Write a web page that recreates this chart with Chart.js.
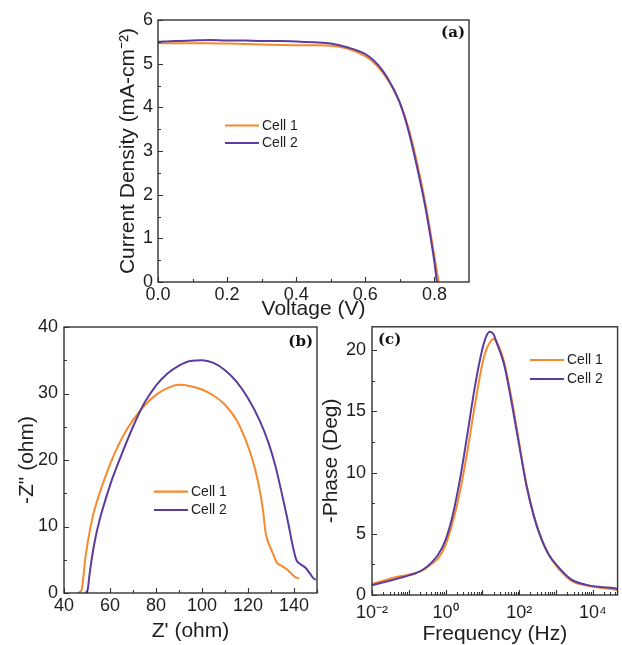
<!DOCTYPE html>
<html>
<head>
<meta charset="utf-8">
<script src="https://cdn.jsdelivr.net/npm/chart.js@4.4.1/dist/chart.umd.min.js"></script>
<style>
  html, body { margin: 0; padding: 0; background: #fff; }
  body { width: 622px; height: 645px; position: relative; overflow: hidden; }
  .panel { position: absolute; }
  #jvBox { left: 0; top: 0; width: 480px; height: 325px; }
  #nyqBox { left: 0; top: 310px; width: 330px; height: 335px; }
  #bodeBox { left: 300px; top: 310px; width: 322px; height: 335px; }
</style>
</head>
<body>
<div class="panel" id="jvBox"><canvas id="jvChart"></canvas></div>
<div class="panel" id="nyqBox"><canvas id="nyqChart"></canvas></div>
<div class="panel" id="bodeBox"><canvas id="bodeChart"></canvas></div>
<script>
// series names
const cellLabels = ['Cell 1', 'Cell 2'];

// (a) J-V curves
const voltage1 = [0, 0.05, 0.1, 0.15, 0.2, 0.25, 0.3, 0.35, 0.4, 0.45, 0.5, 0.55, 0.6, 0.625, 0.65, 0.675, 0.7, 0.725, 0.75, 0.775, 0.8, 0.812];
const current1 = [5.47, 5.47, 5.47, 5.47, 5.46, 5.45, 5.44, 5.43, 5.42, 5.42, 5.41, 5.34, 5.17, 5.02, 4.80, 4.50, 4.10, 3.52, 2.72, 1.75, 0.58, 0];
const voltage2 = [0, 0.05, 0.1, 0.15, 0.2, 0.25, 0.3, 0.35, 0.4, 0.45, 0.5, 0.55, 0.6, 0.625, 0.65, 0.675, 0.7, 0.725, 0.75, 0.775, 0.8, 0.807];
const current2 = [5.50, 5.52, 5.53, 5.54, 5.53, 5.53, 5.52, 5.52, 5.51, 5.49, 5.46, 5.37, 5.22, 5.07, 4.84, 4.52, 4.10, 3.46, 2.62, 1.66, 0.45, 0];

// (b) Nyquist plots
const zReal1 = [45.8, 47.6, 48.3, 49.2, 50.5, 52.5, 55, 58, 62, 66, 70, 75, 80, 85, 90, 95, 100, 105, 110, 115, 119, 122, 124.5, 126.5, 127.7, 129.5, 131, 132.5, 135, 137.5, 139.5, 141, 142.2];
const zImag1 = [0, 0.4, 2, 5, 8, 11.5, 14.5, 17.5, 21, 23.8, 26, 28.2, 29.8, 30.8, 31.3, 31.1, 30.6, 29.7, 28.3, 26.0, 23, 20, 16.5, 12.5, 9, 7, 5.8, 4.6, 4, 3.4, 2.7, 2.3, 2.2];
const zReal2 = [49.3, 50.3, 51, 52, 53.5, 55.5, 58, 61, 65, 70, 75, 80, 85, 90, 95, 100, 105, 110, 115, 120, 125, 129, 132, 135, 137.5, 139.5, 141, 143, 145, 147, 148.5, 149.5];
const zImag2 = [0, 0.5, 2.5, 5, 8, 11, 14, 17.2, 20.8, 25, 28.6, 31.2, 33, 34.2, 34.9, 35.0, 34.6, 33.5, 31.8, 29.3, 26, 22.5, 19, 14.5, 10.5, 7, 5, 4.3, 3.8, 2.9, 2.2, 2];

// (c) Bode phase
const freq = [0.01, 0.0251, 0.0501, 0.1, 0.158, 0.251, 0.398, 0.631, 1, 1.58, 2.51, 3.98, 6.31, 10, 12.6, 15.8, 20, 25.1, 31.6, 39.8, 63.1, 100, 158, 251, 398, 631, 1000, 2510, 6310, 15800, 39800, 47000];
const phase1 = [0.9, 1.25, 1.5, 1.65, 1.8, 2.05, 2.5, 3.0, 4.1, 6.0, 8.6, 11.9, 15.6, 18.9, 20.0, 20.6, 20.9, 20.6, 19.9, 18.9, 15.9, 12.4, 9.0, 6.5, 4.6, 3.3, 2.4, 1.2, 0.8, 0.6, 0.45, 0.4];
const phase2 = [0.8, 1.1, 1.35, 1.6, 1.8, 2.1, 2.6, 3.3, 4.5, 6.6, 9.6, 13.3, 17.1, 20.1, 21.1, 21.5, 21.3, 20.5, 19.7, 18.7, 15.6, 12.2, 8.9, 6.4, 4.6, 3.3, 2.5, 1.3, 0.85, 0.65, 0.55, 0.5];

// tick values
const jvXMajor = [0, 0.2, 0.4, 0.6, 0.8];
const jvXMinor = [0.1, 0.3, 0.5, 0.7];
const jvYMajor = [0, 1, 2, 3, 4, 5, 6];
const jvYMinor = [0.5, 1.5, 2.5, 3.5, 4.5, 5.5];
const nyqXMajor = [40, 60, 80, 100, 120, 140];
const nyqXMinor = [50, 70, 90, 110, 130, 150];
const nyqYMajor = [0, 10, 20, 30, 40];
const nyqYMinor = [5, 15, 25, 35];
const bodeYMajor = [0, 5, 10, 15, 20];
const bodeYMinor = [2.5, 7.5, 12.5, 17.5];
const bodeDecades = [-2, -1, 0, 1, 2, 3, 4];
const bodeLabelled = [-2, 0, 2, 4];

const colors = ['#f68a2c', '#5a3d9e'];
const axisColor = '#333';
const textColor = '#1e1e1e';
const sansFont = 'Liberation Sans, Arial, sans-serif';

function makeSeries(xs, ys) {
  return xs.map((v, i) => ({ x: v, y: ys[i] }));
}

function tickList(major, minor) {
  return major.map(v => ({ value: v, major: true }))
    .concat(minor.map(v => ({ value: v, major: false })))
    .sort((a, b) => a.value - b.value);
}

function logTicks(max) {
  const out = [];
  bodeDecades.forEach(d => {
    for (let m = 1; m <= 9; m++) {
      const v = m * Math.pow(10, d);
      if (v <= max * 1.0001) out.push({ value: v, major: m === 1 });
    }
  });
  return out;
}

const supDigits = { '-': '\u207B', '0': '\u2070', '1': '\u00B9', '2': '\u00B2', '3': '\u00B3', '4': '\u2074' };

function axis(o) {
  const bottom = o.pos === 'bottom';
  return {
    type: o.type || 'linear',
    position: o.pos,
    min: o.min,
    max: o.max,
    afterFit: s => { if (bottom) s.height = o.size; else s.width = o.size; },
    afterBuildTicks: s => { s.ticks = o.ticks(); },
    grid: { display: false, drawTicks: false },
    border: { display: false },
    ticks: {
      autoSkip: false,
      maxRotation: 0,
      minRotation: 0,
      padding: o.tickPad,
      color: textColor,
      font: { family: sansFont, size: 18 },
      callback: o.label
    },
    title: {
      display: true,
      text: o.title,
      color: textColor,
      font: { family: sansFont, size: 21, lineHeight: 1 },
      padding: bottom ? { top: 0, bottom: o.titlePad } : { top: o.titlePad, bottom: 0 }
    }
  };
}

// frame, inward ticks, legend and panel tag
const decor = {
  id: 'decor',
  afterDraw(chart, args, opts) {
    const { ctx, chartArea: a } = chart;
    ctx.save();
    ctx.strokeStyle = axisColor;
    ctx.lineWidth = 1.4;
    ctx.strokeRect(a.left, a.top, a.right - a.left, a.bottom - a.top);

    ctx.lineWidth = 1.1;
    const xs = chart.scales.x, ys = chart.scales.y;
    ctx.beginPath();
    xs.ticks.forEach(t => {
      const px = Math.round(xs.getPixelForValue(t.value)) + 0.5;
      if (px < a.left - 1 || px > a.right + 1) return;
      const len = t.major ? 5 : 3;
      ctx.moveTo(px, a.bottom);
      ctx.lineTo(px, a.bottom - len);
    });
    ys.ticks.forEach(t => {
      const py = Math.round(ys.getPixelForValue(t.value)) + 0.5;
      const len = t.major ? 5 : 3;
      ctx.moveTo(a.left, py);
      ctx.lineTo(a.left + len, py);
    });
    ctx.stroke();

    // legend
    const lg = opts.legend;
    ctx.font = '14px ' + sansFont;
    ctx.textBaseline = 'middle';
    ctx.textAlign = 'left';
    chart.data.datasets.forEach((ds, i) => {
      const y = lg.y + i * lg.gap;
      ctx.strokeStyle = ds.borderColor;
      ctx.lineWidth = 2.2;
      ctx.beginPath();
      ctx.moveTo(lg.x, y);
      ctx.lineTo(lg.x + 34, y);
      ctx.stroke();
      ctx.fillStyle = textColor;
      ctx.fillText(ds.label, lg.x + 37, y + 0.5);
    });

    // panel tag
    const tag = opts.tag;
    ctx.font = 'bold 15px DejaVu Serif, serif';
    ctx.textAlign = tag.align;
    ctx.fillStyle = '#111';
    ctx.fillText(tag.text, tag.x, tag.y);
    ctx.restore();
  }
};

function datasets(s1, s2) {
  return [
    { label: cellLabels[0], data: s1, borderColor: colors[0], borderWidth: 2, pointRadius: 0, cubicInterpolationMode: 'monotone', order: 1 },
    { label: cellLabels[1], data: s2, borderColor: colors[1], borderWidth: 2, pointRadius: 0, cubicInterpolationMode: 'monotone', order: 0 }
  ];
}

function baseOptions(pad, scales, decorOpts) {
  return {
    responsive: true,
    maintainAspectRatio: false,
    animation: false,
    layout: { padding: pad },
    plugins: { legend: { display: false }, tooltip: { enabled: false }, decor: decorOpts },
    scales: scales
  };
}

// (a)
new Chart(document.getElementById('jvChart'), {
  type: 'line',
  data: { datasets: datasets(makeSeries(voltage1, current1), makeSeries(voltage2, current2)) },
  options: baseOptions({ top: 20, right: 11, left: 0, bottom: 0 }, {
    x: axis({ pos: 'bottom', min: 0, max: 0.9, size: 43, tickPad: 2, titlePad: 5.5, title: 'Voltage (V)',
      ticks: () => tickList(jvXMajor, jvXMinor),
      label: (v, i, t) => t[i].major ? v.toFixed(1) : '' }),
    y: axis({ pos: 'left', min: 0, max: 6, size: 158, tickPad: 5, titlePad: 117.5, title: 'Current Density (mA-cm\u207B\u00B2)',
      ticks: () => tickList(jvYMajor, jvYMinor),
      label: (v, i, t) => t[i].major ? String(v) : '' })
  }, { legend: { x: 225, y: 125.5, gap: 17.5 }, tag: { text: '(a)', x: 465, y: 33, align: 'right' } }),
  plugins: [decor]
});

// (b)
new Chart(document.getElementById('nyqChart'), {
  type: 'line',
  data: { datasets: datasets(makeSeries(zReal1, zImag1), makeSeries(zReal2, zImag2)) },
  options: baseOptions({ top: 17, right: 13, left: 0, bottom: 0 }, {
    x: axis({ pos: 'bottom', min: 40, max: 150, size: 52, tickPad: 2, titlePad: 3.5, title: "Z' (ohm)",
      ticks: () => tickList(nyqXMajor, nyqXMinor),
      label: (v, i, t) => t[i].major ? String(v) : '' }),
    y: axis({ pos: 'left', min: 0, max: 40, size: 64, tickPad: 6, titlePad: 16.5, title: '-Z" (ohm)',
      ticks: () => tickList(nyqYMajor, nyqYMinor),
      label: (v, i, t) => t[i].major ? String(v) : '' })
  }, { legend: { x: 154, y: 181.7, gap: 18.3 }, tag: { text: '(b)', x: 313, y: 32, align: 'right' } }),
  plugins: [decor]
});

// (c)
new Chart(document.getElementById('bodeChart'), {
  type: 'line',
  data: { datasets: datasets(makeSeries(freq, phase1), makeSeries(freq, phase2)) },
  options: baseOptions({ top: 12, right: 0, left: 0, bottom: 0 }, {
    x: axis({ type: 'logarithmic', pos: 'bottom', min: 0.01, max: 47000, size: 50, tickPad: 7, titlePad: 0, title: 'Frequency (Hz)',
      ticks: () => logTicks(47000),
      label: (v, i, t) => {
        if (!t[i].major) return '';
        const e = Math.round(Math.log10(v));
        if (bodeLabelled.indexOf(e) < 0) return '';
        return '10' + String(e).split('').map(c => supDigits[c]).join('');
      } }),
    y: axis({ pos: 'left', min: 0, max: 21.9, size: 72, tickPad: 6, titlePad: 20.5, title: '-Phase (Deg)',
      ticks: () => tickList(bodeYMajor, bodeYMinor),
      label: (v, i, t) => t[i].major ? String(v) : '' })
  }, { legend: { x: 230, y: 50, gap: 19 }, tag: { text: '(c)', x: 78, y: 30, align: 'left' } }),
  plugins: [decor]
});
</script>
</body>
</html>
